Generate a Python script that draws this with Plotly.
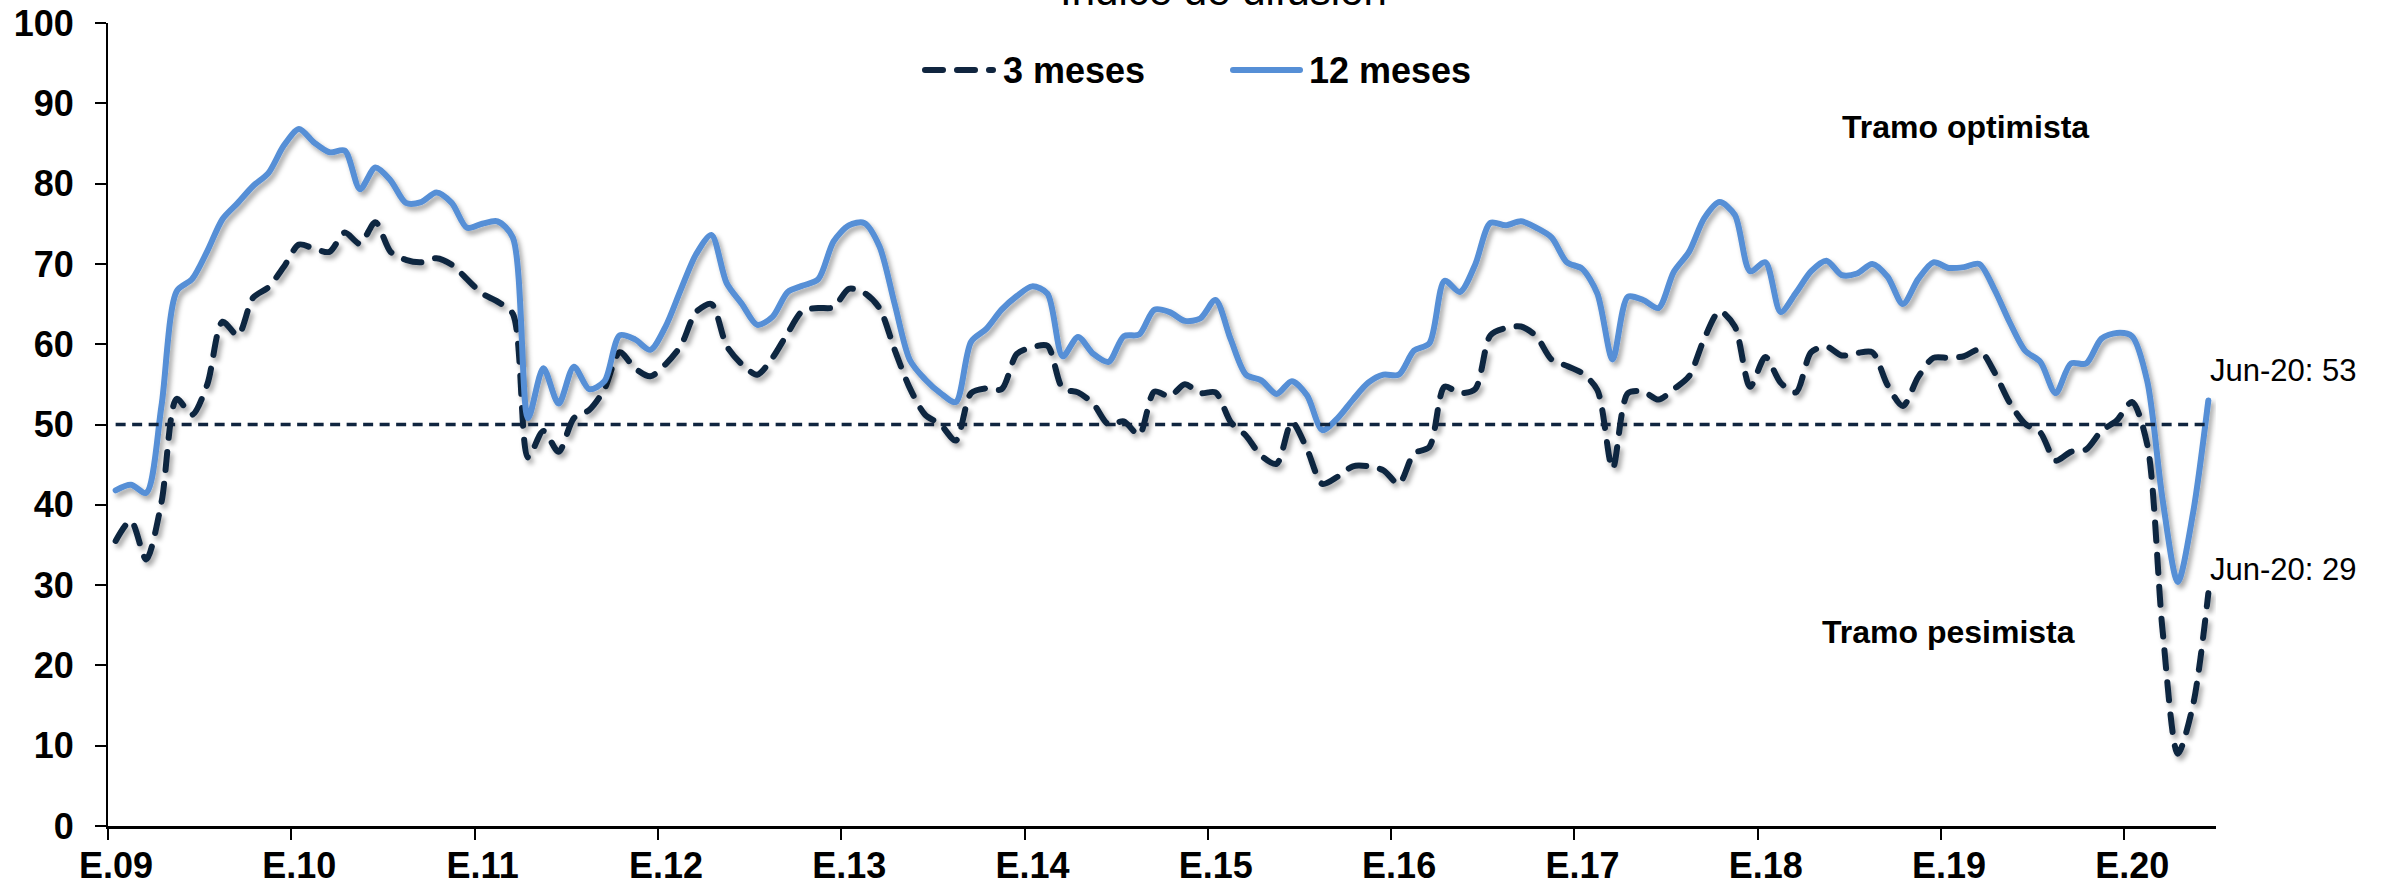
import plotly.graph_objects as go

# Índice de difusión: monthly series, January 2009 to June 2020
anios = list(range(2009, 2021))
abrev = ["ene", "feb", "mar", "abr", "may", "jun", "jul", "ago", "sep", "oct", "nov", "dic"]
meses = [f"{m}.{str(a)[2:]}" for a in anios for m in abrev][:138]

meses_3 = [
    35.5, 38.0, 33.2, 40.3, 53.2, 51.2, 55.0, 62.8, 61.1, 65.8, 67.1, 69.6,   # 2009
    72.4, 71.9, 71.5, 73.9, 72.5, 75.2, 71.5, 70.5, 70.2, 70.7, 69.9, 68.1,   # 2010
    66.3, 65.3, 63.8, 45.9, 49.2, 46.6, 50.8, 51.8, 54.4, 59.0, 57.0, 56.0,   # 2011
    57.5, 59.8, 64.0, 65.0, 59.8, 57.5, 56.2, 58.3, 61.4, 64.2, 64.5, 64.6,   # 2012
    66.9, 66.4, 64.5, 59.3, 54.5, 51.2, 50.0, 48.0, 53.9, 54.5, 54.4, 58.8,   # 2013
    59.6, 59.8, 54.5, 54.0, 52.6, 50.0, 50.4, 48.7, 54.1, 53.5, 55.0, 53.9,   # 2014
    54.0, 50.3, 48.6, 46.1, 45.1, 50.3, 46.9, 42.6, 43.5, 44.8, 44.8, 44.3,   # 2015
    42.6, 46.4, 47.2, 54.7, 53.9, 54.4, 61.1, 62.0, 62.2, 61.0, 58.1, 57.3,   # 2016
    56.4, 54.3, 44.5, 53.9, 54.1, 53.1, 54.4, 56.0, 60.7, 64.1, 62.2, 54.7,   # 2017
    58.4, 55.2, 54.0, 59.0, 59.7, 58.6, 58.9, 59.0, 54.9, 52.3, 55.9, 58.3,   # 2018
    58.3, 58.5, 59.3, 56.5, 52.7, 50.1, 49.0, 45.5, 46.6, 46.9, 49.2, 50.5,   # 2019
    52.8, 47.5, 24.4, 9.0, 15.1, 29.0,                                         # 2020
]

meses_12 = [
    41.8, 42.5, 41.5, 52.3, 66.6, 68.1, 71.6, 75.6, 77.6, 79.7, 81.3, 84.7,   # 2009
    86.8, 85.1, 83.9, 84.1, 79.3, 82.0, 80.4, 77.6, 77.7, 78.9, 77.6, 74.5,   # 2010
    75.0, 75.3, 73.3, 50.8, 57.0, 52.6, 57.2, 54.4, 55.4, 61.1, 60.6, 59.3,   # 2011
    62.2, 66.8, 71.2, 73.6, 67.6, 65.0, 62.4, 63.4, 66.5, 67.3, 68.1, 72.8,   # 2012
    74.8, 75.1, 72.2, 65.0, 58.0, 55.6, 53.9, 52.8, 60.3, 61.9, 64.3, 66.0,   # 2013
    67.2, 66.3, 58.5, 60.9, 58.8, 57.8, 61.0, 61.2, 64.3, 64.0, 62.9, 63.2,   # 2014
    65.5, 60.6, 56.2, 55.5, 53.8, 55.4, 53.6, 49.3, 50.8, 53.1, 55.2, 56.2,   # 2015
    56.2, 59.2, 60.1, 67.9, 66.5, 69.9, 75.1, 74.8, 75.3, 74.5, 73.3, 70.2,   # 2016
    69.4, 66.3, 58.1, 65.9, 65.5, 64.5, 69.0, 71.5, 75.7, 77.7, 76.1, 69.1,   # 2017
    70.2, 64.0, 66.4, 69.1, 70.4, 68.6, 68.8, 70.0, 68.4, 65.0, 68.1, 70.2,   # 2018
    69.5, 69.6, 70.0, 66.8, 62.7, 59.2, 57.8, 53.9, 57.6, 57.6, 60.7, 61.4,   # 2019
    61.0, 55.4, 40.7, 30.4, 39.0, 53.0,                                        # 2020
]

umbral = 50
etiquetas_anio = ["E.09", "E.10", "E.11", "E.12", "E.13", "E.14",
                  "E.15", "E.16", "E.17", "E.18", "E.19", "E.20"]

AZUL = "#568FD6"
MARINO = "#10253F"
FUENTE = "Arial, Liberation Sans, sans-serif"

n = len(meses)
pos = list(range(n))

# plot-area geometry in pixels, used to place free-floating text and legend keys
W, H = 2392, 888
L, R, T, B = 108, 2216, 23, 826


def px(xp):
    return (xp - L) / (R - L)


def py(yp):
    return (B - yp) / (B - T)


fig = go.Figure()
fig.add_trace(go.Scatter(
    x=pos, y=meses_3, name="3 meses", mode="lines", text=meses,
    line=dict(color=MARINO, width=6, dash="18px,14px", shape="spline", smoothing=0.8),
))
fig.add_trace(go.Scatter(
    x=pos, y=meses_12, name="12 meses", mode="lines", text=meses,
    line=dict(color=AZUL, width=6, shape="spline", smoothing=0.8),
))
fig.add_trace(go.Scatter(
    x=pos, y=[umbral] * n, name="Umbral", mode="lines", hoverinfo="skip",
    line=dict(color=MARINO, width=3.5, dash="10px,6.5px"),
))

ultimo = meses[-1]
etq_fin = f"Jun-{ultimo[-2:]}"

annotations = [
    dict(text="Índice de difusión", xref="paper", yref="paper", x=px(1223), y=py(-10),
         xanchor="center", yanchor="middle", showarrow=False,
         font=dict(family=FUENTE, size=42, color="black")),
    dict(text="<b>Tramo optimista</b>", xref="x", yref="y", x=121.1, y=87.1,
         xanchor="center", yanchor="middle", showarrow=False,
         font=dict(family=FUENTE, size=32, color="black")),
    dict(text="<b>Tramo pesimista</b>", xref="x", yref="y", x=120.0, y=24.2,
         xanchor="center", yanchor="middle", showarrow=False,
         font=dict(family=FUENTE, size=32, color="black")),
    dict(text=f"{etq_fin}: {meses_12[-1]:.0f}", xref="x", yref="y", x=137.0, y=56.7,
         xanchor="left", yanchor="middle", showarrow=False,
         font=dict(family=FUENTE, size=31, color="black")),
    dict(text=f"{etq_fin}: {meses_3[-1]:.0f}", xref="x", yref="y", x=137.0, y=32.0,
         xanchor="left", yanchor="middle", showarrow=False,
         font=dict(family=FUENTE, size=31, color="black")),
    dict(text="<b>3 meses</b>", xref="paper", yref="paper", x=px(1001), y=py(70),
         xanchor="left", yanchor="middle", showarrow=False,
         font=dict(family=FUENTE, size=36, color="black")),
    dict(text="<b>12 meses</b>", xref="paper", yref="paper", x=px(1307), y=py(70),
         xanchor="left", yanchor="middle", showarrow=False,
         font=dict(family=FUENTE, size=36, color="black")),
]

# legend keys
shapes = [
    dict(type="line", xref="paper", yref="paper", x0=px(925), x1=px(993), y0=py(70), y1=py(70),
         line=dict(color=MARINO, width=6, dash="18px,14px")),
    dict(type="line", xref="paper", yref="paper", x0=px(1233), x1=px(1300), y0=py(70), y1=py(70),
         line=dict(color=AZUL, width=6)),
]

fig.update_layout(
    width=W, height=H,
    margin=dict(l=L, r=W - R, t=T, b=H - B, pad=0, autoexpand=False),
    paper_bgcolor="white", plot_bgcolor="white",
    showlegend=False,
    font=dict(family=FUENTE, color="black"),
    annotations=annotations, shapes=shapes,
    xaxis=dict(
        range=[-0.5, n - 0.5], tickmode="array", automargin=False,
        tickvals=[12 * k - 0.5 for k in range(len(etiquetas_anio))],
        ticktext=[f"<b>{t}</b>" for t in etiquetas_anio],
        ticklabelshift=8, ticklabelstandoff=-5,
        ticks="outside", ticklen=11, tickwidth=2, tickcolor="black",
        showline=True, linecolor="black", linewidth=2.5,
        showgrid=False, zeroline=False,
        tickfont=dict(family=FUENTE, size=36, color="black"),
    ),
    yaxis=dict(
        range=[0, 100], tickmode="linear", tick0=0, dtick=10, automargin=False,
        ticks="outside", ticklen=11, tickwidth=2, tickcolor="black",
        showline=True, linecolor="black", linewidth=2,
        showgrid=False, zeroline=False, ticklabelstandoff=14,
        tickprefix="<b>", ticksuffix="</b>",
        tickfont=dict(family=FUENTE, size=36, color="black"),
    ),
)

post = """
var gd = document.getElementById('{plot_id}');
function decorate() {
  var ns = 'http://www.w3.org/2000/svg';
  var svg = gd.querySelector('svg.main-svg');
  if (!svg) return;
  if (!document.getElementById('sombraLinea')) {
    var defs = svg.querySelector('defs');
    if (!defs) { defs = document.createElementNS(ns, 'defs'); svg.insertBefore(defs, svg.firstChild); }
    var f = document.createElementNS(ns, 'filter');
    f.setAttribute('id', 'sombraLinea');
    f.setAttribute('x', '-5%'); f.setAttribute('y', '-5%');
    f.setAttribute('width', '115%'); f.setAttribute('height', '120%');
    var d = document.createElementNS(ns, 'feDropShadow');
    d.setAttribute('dx', '3'); d.setAttribute('dy', '4'); d.setAttribute('stdDeviation', '2.5');
    d.setAttribute('flood-color', '#000'); d.setAttribute('flood-opacity', '0.35');
    f.appendChild(d); defs.appendChild(f);
  }
  var traces = gd.querySelectorAll('.scatterlayer .trace');
  traces.forEach(function (t, k) {
    var p = t.querySelector('path.js-line');
    if (!p || k > 1) return;
    p.style.strokeLinecap = 'round';
    p.style.strokeLinejoin = 'round';
    p.setAttribute('filter', 'url(#sombraLinea)');
  });
  gd.querySelectorAll('.shapelayer path').forEach(function (p) {
    p.style.strokeLinecap = 'round';
  });
}
decorate();
gd.on('plotly_afterplot', decorate);
"""

fig.write_html("out.html", post_script=post)
